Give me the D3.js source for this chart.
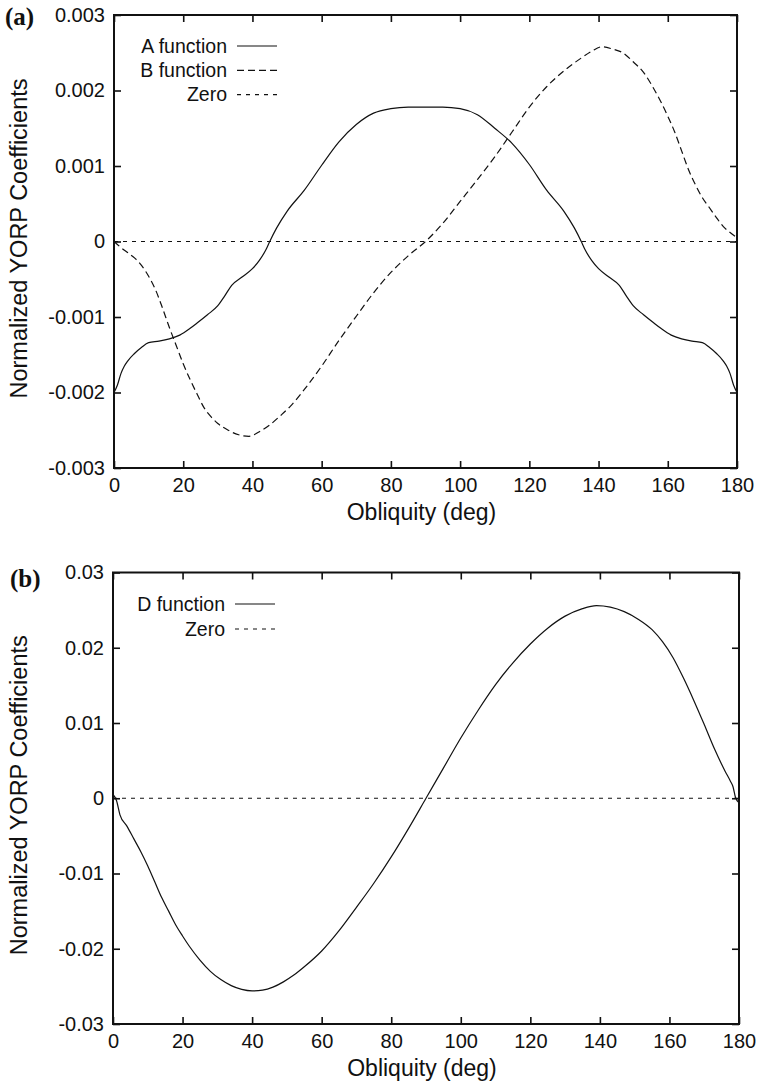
<!DOCTYPE html>
<html>
<head>
<meta charset="utf-8">
<script src="https://cdn.jsdelivr.net/npm/d3@7"></script>
<style>
  body { margin: 0; background: #fff; }
  svg { display: block; }
</style>
</head>
<body>
<div id="chart"></div>
<script>
var width = 761;
var height = 1088;

// panel (a): A and B functions
var degA = [0, 1, 2, 3, 4, 6, 8, 10, 13, 16, 19, 22, 24, 27, 30, 32, 34, 37, 40, 42, 44, 45, 47, 50, 55, 60, 65, 70, 75, 80, 85, 90,
            95, 100, 105, 110, 115, 120, 125, 130, 133, 135, 136, 138, 140, 143, 146, 148, 150, 153, 156, 158, 161, 164, 167, 170, 172, 174, 176, 177, 178, 179, 180];
var valA = [-0.00200, -0.00190, -0.00175, -0.00165, -0.00158, -0.00148, -0.00140, -0.00134, -0.00132, -0.00129, -0.00124, -0.00115, -0.00108, -0.00097, -0.00085, -0.00072,
            -0.00058, -0.00047, -0.00036, -0.00025, -0.00010, 0.00000, 0.00018, 0.00040, 0.00068, 0.00101, 0.00132, 0.00155, 0.00170, 0.00176, 0.00178, 0.00178,
            0.00178, 0.00176, 0.00168, 0.00150, 0.00130, 0.00102, 0.00068, 0.00040, 0.00018, 0.00000, -0.00010, -0.00025, -0.00036, -0.00047, -0.00058, -0.00072,
            -0.00085, -0.00097, -0.00108, -0.00115, -0.00124, -0.00129, -0.00132, -0.00134, -0.00140, -0.00148, -0.00158, -0.00165, -0.00175, -0.00190, -0.00200];

var degB = [0, 2, 4, 6, 8, 10, 12, 14, 16, 18, 20, 22, 24, 26, 28, 30, 33, 36, 39, 42, 45, 48, 51, 55, 60, 65, 70, 75, 80, 85, 90,
            95, 100, 105, 110, 115, 120, 125, 130, 135, 138, 141, 144, 147, 150, 153, 156, 158, 160, 162, 164, 166, 168, 170, 172, 174, 176, 178, 180];
var valB = [0, -0.00008, -0.00015, -0.00022, -0.00032, -0.00046, -0.00064, -0.00088, -0.00114, -0.00138, -0.00162, -0.00183, -0.00202, -0.00220, -0.00232, -0.00241,
            -0.00250, -0.00256, -0.00258, -0.00252, -0.00243, -0.00231, -0.00218, -0.00196, -0.00165, -0.00131, -0.00099, -0.00068, -0.00041, -0.00019, 0.00000,
            0.00024, 0.00053, 0.00082, 0.00112, 0.00145, 0.00178, 0.00205, 0.00226, 0.00243, 0.00252, 0.00258, 0.00255, 0.00250, 0.00238, 0.00224, 0.00202,
            0.00185, 0.00166, 0.00145, 0.00120, 0.00095, 0.00075, 0.00058, 0.00045, 0.00032, 0.00020, 0.00012, 0.00005];

// panel (b): D function
var degD = [0, 1, 2, 4, 6, 8, 10, 12, 14, 16, 18, 20, 22, 25, 28, 31, 34, 37, 40, 43, 46, 49, 52, 55, 60, 65, 70, 75, 80, 85, 90,
            95, 100, 105, 110, 115, 120, 125, 130, 135, 139, 143, 147, 151, 155, 158, 161, 164, 167, 170, 173, 176, 177.5, 178.3, 179, 180];
var valD = [0.0005, -0.0003, -0.0022, -0.0037, -0.0054, -0.0071, -0.0090, -0.0111, -0.0132, -0.0150, -0.0168, -0.0183, -0.0197, -0.0215, -0.0230, -0.0241,
            -0.0249, -0.0254, -0.0256, -0.0255, -0.0251, -0.0244, -0.0235, -0.0224, -0.0203, -0.0176, -0.0145, -0.0113, -0.0078, -0.0040, 0.0000,
            0.0040, 0.0080, 0.0117, 0.0151, 0.0180, 0.0205, 0.0226, 0.0242, 0.0252, 0.0256, 0.0254, 0.0248, 0.0238, 0.0224, 0.0208, 0.0187,
            0.0160, 0.0130, 0.0098, 0.0065, 0.0036, 0.0023, 0.0015, 0.0001, -0.0006];

var xTicks = [0, 20, 40, 60, 80, 100, 120, 140, 160, 180];
var yTicksA = [-0.003, -0.002, -0.001, 0, 0.001, 0.002, 0.003];
var yTicksB = [-0.03, -0.02, -0.01, 0, 0.01, 0.02, 0.03];

var svg = d3.select("#chart")
  .append("svg")
  .attr("width", width)
  .attr("height", height);

svg.append("rect").attr("width", width).attr("height", height).attr("fill", "#fff");

var sansFont = "'Liberation Sans', Arial, Helvetica, sans-serif";

function drawPanel(p) {
  var x = d3.scaleLinear().domain([0, 180]).range([p.left, p.right]);
  var y = d3.scaleLinear().domain([p.yTicks[0], p.yTicks[p.yTicks.length - 1]]).range([p.bottom, p.top]);
  var g = svg.append("g");

  var fmt = function(d) { return d === 0 ? "0" : String(+d.toFixed(p.digits)); };

  // axes with inward ticks on all four sides
  var bottom = g.append("g").attr("transform", "translate(0," + p.bottom + ")")
    .call(d3.axisBottom(x).tickValues(xTicks).tickSize(-7).tickPadding(10).tickFormat(d3.format("d")));
  var top = g.append("g").attr("transform", "translate(0," + p.top + ")")
    .call(d3.axisTop(x).tickValues(xTicks).tickSize(-7).tickFormat(""));
  var left = g.append("g").attr("transform", "translate(" + p.left + ",0)")
    .call(d3.axisLeft(y).tickValues(p.yTicks).tickSize(-7).tickPadding(9).tickFormat(fmt));
  var right = g.append("g").attr("transform", "translate(" + p.right + ",0)")
    .call(d3.axisRight(y).tickValues(p.yTicks).tickSize(-7).tickFormat(""));

  [bottom, top, left, right].forEach(function(a) {
    a.select(".domain").remove();
    a.selectAll(".tick line").attr("stroke", "#111").attr("stroke-width", 1.6);
    a.selectAll("text").attr("font-family", sansFont).attr("font-size", 20).attr("fill", "#111");
  });

  // zero line
  g.append("line")
    .attr("x1", x(0)).attr("x2", x(180))
    .attr("y1", y(0)).attr("y2", y(0))
    .attr("stroke", "#111").attr("stroke-width", 1.1)
    .attr("stroke-dasharray", "4,5");

  var line = d3.line()
    .x(function(d) { return x(d[0]); })
    .y(function(d) { return y(d[1]); })
    .curve(d3.curveMonotoneX);

  p.series.forEach(function(s) {
    g.append("path")
      .datum(d3.zip(s.deg, s.val))
      .attr("d", line)
      .attr("fill", "none")
      .attr("stroke", "#111")
      .attr("stroke-width", 1.2)
      .attr("stroke-dasharray", s.dash);
  });

  // frame
  g.append("rect")
    .attr("x", p.left).attr("y", p.top)
    .attr("width", p.right - p.left).attr("height", p.bottom - p.top)
    .attr("fill", "none").attr("stroke", "#111").attr("stroke-width", 2);

  // legend
  var legend = p.series.concat([{ name: "Zero", dash: "4,5" }]);
  legend.forEach(function(s, i) {
    var ly = p.legendY + i * p.legendStep;
    g.append("text")
      .attr("x", p.legendX).attr("y", ly + 6.5)
      .attr("text-anchor", "end")
      .attr("font-family", sansFont).attr("font-size", 19.5).attr("fill", "#111")
      .text(s.name);
    g.append("line")
      .attr("x1", p.legendX + 10).attr("x2", p.legendX + 50)
      .attr("y1", ly).attr("y2", ly)
      .attr("stroke", "#111").attr("stroke-width", 1.2)
      .attr("stroke-dasharray", s.dash);
  });

  // axis titles
  g.append("text")
    .attr("x", (p.left + p.right) / 2 - 4).attr("y", p.bottom + 52)
    .attr("text-anchor", "middle")
    .attr("font-family", sansFont).attr("font-size", 23).attr("fill", "#111")
    .text("Obliquity (deg)");

  g.append("text")
    .attr("transform", "translate(27," + ((p.top + p.bottom) / 2 - 3) + ") rotate(-90)")
    .attr("text-anchor", "middle")
    .attr("font-family", sansFont).attr("font-size", 23.5).attr("fill", "#111")
    .text("Normalized YORP Coefficients");

  // panel label
  g.append("text")
    .attr("x", p.labelX).attr("y", p.labelY)
    .attr("font-family", "'Liberation Serif', 'Times New Roman', serif")
    .attr("font-weight", "bold").attr("font-size", 25).attr("fill", "#111")
    .text(p.label);
}

drawPanel({
  left: 114, right: 737, top: 15, bottom: 468,
  yTicks: yTicksA, digits: 3,
  series: [
    { name: "A function", deg: degA, val: valA, dash: null },
    { name: "B function", deg: degB, val: valB, dash: "7,4" }
  ],
  legendX: 227, legendY: 46, legendStep: 24.3,
  label: "(a)", labelX: 5, labelY: 25
});

drawPanel({
  left: 113, right: 739, top: 572.5, bottom: 1024,
  yTicks: yTicksB, digits: 2,
  series: [
    { name: "D function", deg: degD, val: valD, dash: null }
  ],
  legendX: 225, legendY: 604, legendStep: 25,
  label: "(b)", labelX: 10, labelY: 587
});
</script>
</body>
</html>
